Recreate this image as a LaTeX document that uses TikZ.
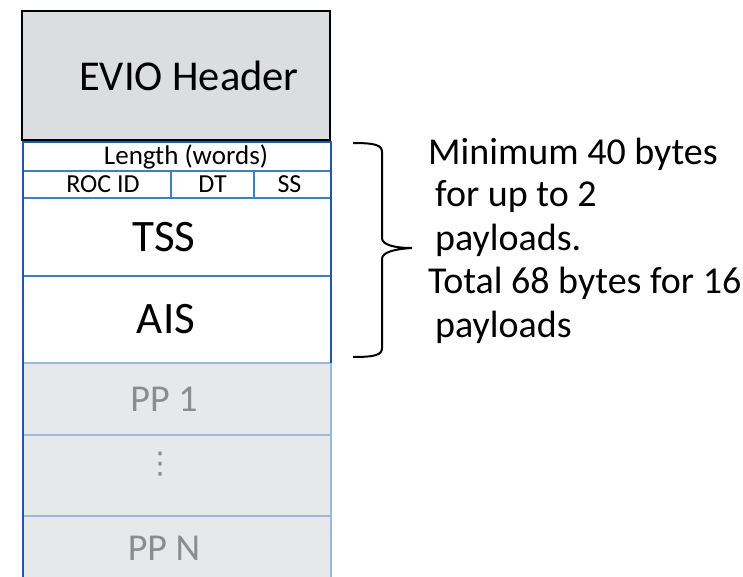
\documentclass[tikz,border=0pt]{standalone}
\usepackage{fontspec}
\setmainfont{Carlito}
\newfontfamily\dotsfont{DejaVu Sans}
\usepackage{tikz}
\usetikzlibrary{positioning,decorations.pathreplacing}
\definecolor{hdrgray}{HTML}{DCDDDF}
\definecolor{ppgray}{HTML}{E7E8EA}
\definecolor{ppline}{HTML}{9DB9D9}
\definecolor{fieldline}{HTML}{3F7FC6}
\definecolor{framecol}{HTML}{24589E}
\definecolor{pptext}{HTML}{8C8C8C}
\tikzstyle{header}=[rectangle, draw=black, line width=2.5pt, fill=hdrgray, inner sep=0pt, outer sep=0pt, minimum width=308pt, minimum height=129pt, font=\fontsize{42.5}{50}\selectfont]
\tikzstyle{field}=[rectangle, draw=fieldline, line width=1.3pt, fill=white, inner sep=0pt, outer sep=0pt, minimum width=308pt]
\tikzstyle{small}=[field, minimum height=27pt, font=\fontsize{26}{30}\selectfont]
\tikzstyle{big}=[field, font=\fontsize{45}{52}\selectfont]
\tikzstyle{payload}=[rectangle, draw=ppline, line width=1.3pt, fill=ppgray, inner sep=0pt, outer sep=0pt, minimum width=308pt, text=pptext, font=\fontsize{38}{44}\selectfont]
\tikzstyle{frame}=[draw=framecol, line width=2.7pt]
\tikzstyle{note}=[anchor=base west, inner sep=0pt, font=\fontsize{38}{44}\selectfont]

\begin{document}
\begin{tikzpicture}[x=1pt,y=-1pt]
\useasboundingbox (0,0) rectangle (743,577);
%Header
\node[header] (hdr) at (176,75.5){\hspace*{26pt}EVIO Header};
%Fields
\node[small, minimum height=29pt, font=\fontsize{27}{30}\selectfont] (len) at (177,156.5){Length (words)\hspace*{-18pt}};
\node[small, minimum width=148pt] (roc) at (97,184.5){ROC ID\hspace*{-12pt}};
\node[small, minimum width=83pt] (dt) at (212.5,184.5){DT};
\node[small, minimum width=77pt] (ss) at (292.5,184.5){SS\hspace*{6pt}};
\node[big, minimum height=78pt] (tss) at (177,237){TSS\hspace*{26pt}};
\node[big, minimum height=87pt] (ais) at (177,319.5){AIS\hspace*{22pt}};
%Payloads
\node[payload, minimum height=72pt] (pp1) at (177,399){PP 1\hspace*{26pt}};
\node[payload, minimum height=81pt, label={[text=pptext, yshift=11pt, xshift=-17pt, inner sep=0pt, font=\dotsfont\fontsize{30}{36}\selectfont]center:⋮}] (ppdots) at (177,475.5){};
\node[payload, minimum height=64pt] (ppn) at (177,548){PP N\hspace*{26pt}};
%Frame
\draw[frame] (ppn.south west) -- (len.north west) -- (len.north east) -- (ais.south east);
%Brace
\coordinate (brtop) at (353,143);
\coordinate (brtip) at (412,248);
\coordinate (brbot) at (353,357);
\draw[line width=2pt] (brtop) .. controls (375,143) and (382,145) .. (382,152) -- (382,238)
  .. controls (382,245) and (395,248) .. (brtip)
  .. controls (395,249) and (382,252) .. (382,259) -- (382,348)
  .. controls (382,355) and (375,357) .. (brbot);
%Note
\node[note] (n1) at (428,165){Minimum 40 bytes};
\node[note] (n2) at (435,207){for up to 2};
\node[note] (n3) at (435,250){payloads.};
\node[note] (n4) at (428,293){Total 68 bytes for 16};
\node[note] (n5) at (435,337){payloads};
\end{tikzpicture}
\end{document}
